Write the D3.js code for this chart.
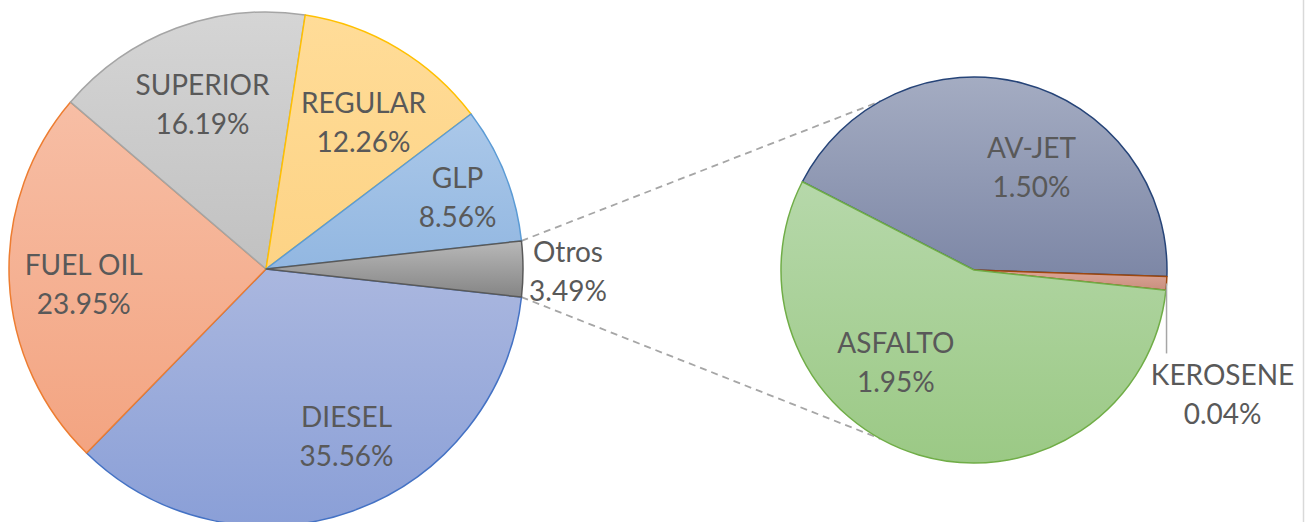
<!DOCTYPE html>
<html>
<head>
<meta charset="utf-8">
<script src="https://cdn.jsdelivr.net/npm/d3@7"></script>
<style>
  body { margin: 0; background: #fff; }
  svg { display: block; }
</style>
</head>
<body>
<div id="chart"></div>
<script>
// pie of pie: main pie + breakdown of "Otros"

const mainLabels = ["DIESEL", "FUEL OIL", "SUPERIOR", "REGULAR", "GLP", "Otros"];
const mainValues = [35.56, 23.95, 16.19, 12.26, 8.56, 3.49];

const subLabels = ["AV-JET", "KEROSENE", "ASFALTO"];
const subValues = [1.50, 0.04, 1.95];

// fills (top, bottom of each slice) and outlines
const mainTop    = ["#aab7df", "#f7bea5", "#d5d5d5", "#ffdc98", "#abc8e9", "#b8b8b8"];
const mainBottom = ["#8a9fd7", "#f3a481", "#c1c1c1", "#fdd385", "#92b7e1", "#858585"];
const mainStroke = ["#4472c4", "#ed7d31", "#a5a5a5", "#ffc000", "#5b9bd5", "#595959"];
const subTop     = ["#a4acc2", "#dca597", "#b6d8aa"];
const subBottom  = ["#7d87a6", "#c98f7e", "#9bc985"];
const subStroke  = ["#264478", "#9e480e", "#70ad47"];

// label nudges from the default label point (px)
const mainNudge = [[19, -6], [0, 6], [0, 5], [4, 9], [22, -6], [0, 1]];
const subNudge  = [[23, 29], [0, 0], [-39, -40]];

const width = 1311, height = 522;
const textColor = "#595959";
const fontSize = 28;

const svg = d3.select("#chart").append("svg")
  .attr("width", width).attr("height", height);
const defs = svg.append("defs");

function gradient(id, top, bottom) {
  const g = defs.append("linearGradient").attr("id", id)
    .attr("x1", 0).attr("y1", 0).attr("x2", 0).attr("y2", 1);
  g.append("stop").attr("offset", "0%").attr("stop-color", top);
  g.append("stop").attr("offset", "100%").attr("stop-color", bottom);
  return `url(#${id})`;
}

function twoLineLabel(g, x, y, name, value) {
  const t = g.append("text")
    .attr("text-anchor", "middle")
    .attr("font-family", "Lato, 'Open Sans', sans-serif")
    .attr("font-size", fontSize)
    .attr("fill", textColor);
  t.append("tspan").attr("x", x).attr("y", y - 8).text(name);
  t.append("tspan").attr("x", x).attr("y", y + 31).text(value.toFixed(2) + "%");
  return t;
}

const rad = d => d * Math.PI / 180;

// ---------- main pie
const main = { cx: 266, cy: 269, r: 257 };
const mainTotal = d3.sum(mainValues);
const otrosAngle = mainValues[5] / mainTotal * 2 * Math.PI;
const mainStart = Math.PI / 2 + otrosAngle / 2;

const mainPie = d3.pie().sort(null).value(d => d)
  .startAngle(mainStart).endAngle(mainStart + 2 * Math.PI);
const mainArcs = mainPie(mainValues);
const mainArc = d3.arc().innerRadius(0).outerRadius(main.r);
const mainLabelArc = d3.arc().innerRadius(main.r * 0.71).outerRadius(main.r * 0.71);
const mainOuterArc = d3.arc().innerRadius(main.r + 45).outerRadius(main.r + 45);

// ---------- sub pie
const sub = { cx: 974, cy: 270, r: 193 };
const subStart = rad(-62.8);
const subPie = d3.pie().sort(null).value(d => d)
  .startAngle(subStart).endAngle(subStart + 2 * Math.PI);
const subArcs = subPie(subValues);
const subArc = d3.arc().innerRadius(0).outerRadius(sub.r);
const subLabelArc = d3.arc().innerRadius(sub.r * 0.71).outerRadius(sub.r * 0.71);

// connector lines between the "Otros" slice and the second pie
const otros = mainArcs[5];
const polar = (c, r, a) => [c.cx + r * Math.sin(a), c.cy - r * Math.cos(a)];
const connectors = [
  [polar(main, main.r, otros.startAngle), polar(sub, sub.r, rad(-29))],
  [polar(main, main.r, otros.endAngle), polar(sub, sub.r, rad(209))]
];
svg.append("g").selectAll("line")
  .data(connectors).enter().append("line")
  .attr("x1", d => d[0][0]).attr("y1", d => d[0][1])
  .attr("x2", d => d[1][0]).attr("y2", d => d[1][1])
  .attr("stroke", "#a6a6a6")
  .attr("stroke-width", 1.8)
  .attr("stroke-dasharray", "7,5");

const gMain = svg.append("g").attr("transform", `translate(${main.cx},${main.cy})`);
gMain.selectAll("path")
  .data(mainArcs).enter().append("path")
  .attr("d", mainArc)
  .attr("fill", (d, i) => gradient("m" + i, mainTop[i], mainBottom[i]))
  .attr("stroke", (d, i) => mainStroke[i])
  .attr("stroke-width", 1.5)
  .attr("stroke-linejoin", "round");

const gSub = svg.append("g").attr("transform", `translate(${sub.cx},${sub.cy})`);
gSub.selectAll("path")
  .data(subArcs).enter().append("path")
  .attr("d", subArc)
  .attr("fill", (d, i) => gradient("s" + i, subTop[i], subBottom[i]))
  .attr("stroke", (d, i) => subStroke[i])
  .attr("stroke-width", 1.5)
  .attr("stroke-linejoin", "round");

// labels
mainArcs.forEach((d, i) => {
  const p = (i === 5 ? mainOuterArc : mainLabelArc).centroid(d);
  twoLineLabel(gMain, p[0] + mainNudge[i][0], p[1] + mainNudge[i][1], mainLabels[i], mainValues[i]);
});

subArcs.forEach((d, i) => {
  if (i === 1) return; // kerosene goes outside with a leader
  const p = subLabelArc.centroid(d);
  twoLineLabel(gSub, p[0] + subNudge[i][0], p[1] + subNudge[i][1], subLabels[i], subValues[i]);
});

// kerosene: leader drops straight down from the slice edge
const kero = subArcs[1];
const edge = polar({ cx: 0, cy: 0 }, sub.r, (kero.startAngle + kero.endAngle) / 2);
gSub.append("line")
  .attr("x1", edge[0]).attr("y1", edge[1])
  .attr("x2", edge[0]).attr("y2", edge[1] + 70)
  .attr("stroke", "#a6a6a6").attr("stroke-width", 1.5);
twoLineLabel(gSub, edge[0] + 56, edge[1] + 110, subLabels[1], subValues[1]);

// chart area border on the right
svg.append("line")
  .attr("x1", 1303.5).attr("x2", 1303.5).attr("y1", 0).attr("y2", height)
  .attr("stroke", "#d9d9d9").attr("stroke-width", 1.5);
</script>
</body>
</html>
